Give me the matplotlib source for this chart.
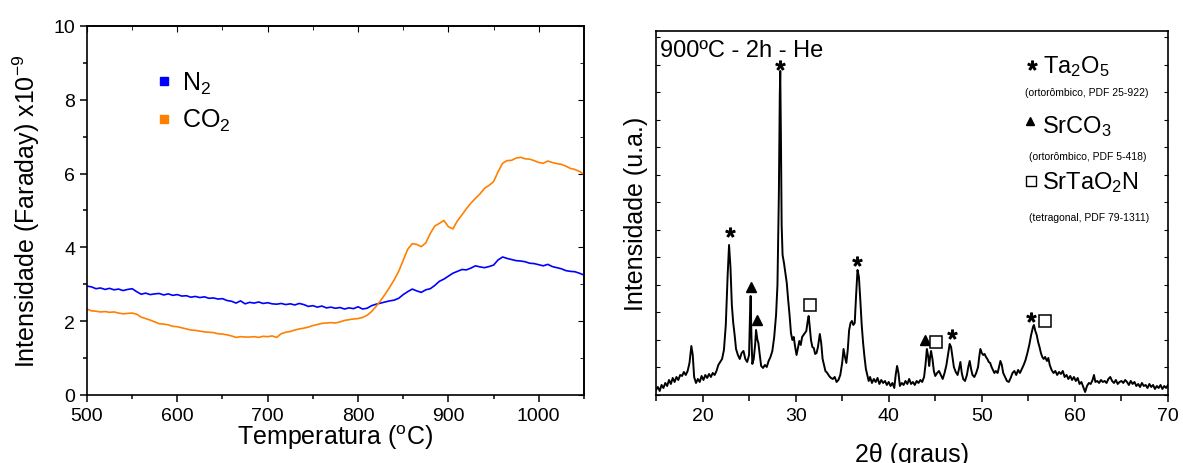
import numpy as np
import matplotlib
matplotlib.use("Agg")
import matplotlib.pyplot as plt
from matplotlib.lines import Line2D
from matplotlib.ticker import MultipleLocator

plt.rcParams['font.family'] = ['Liberation Sans', 'DejaVu Sans']
plt.rcParams['mathtext.fontset'] = 'custom'
plt.rcParams['mathtext.rm'] = 'Liberation Sans'
plt.rcParams['mathtext.it'] = 'Liberation Sans:italic'
plt.rcParams['axes.linewidth'] = 1.2

# --- dados: espectrometria de massa (N2 e CO2) ---
temperatura = np.arange(500, 1051, 5)
n2 = [2.95, 2.93, 2.88, 2.90, 2.86, 2.89, 2.85, 2.87, 2.83, 2.86,
      2.88, 2.80, 2.73, 2.76, 2.72, 2.74, 2.75, 2.71, 2.74, 2.70,
      2.72, 2.68, 2.69, 2.65, 2.67, 2.64, 2.66, 2.62, 2.63, 2.60,
      2.61, 2.56, 2.54, 2.49, 2.55, 2.47, 2.51, 2.49, 2.52, 2.48,
      2.50, 2.47, 2.46, 2.48, 2.45, 2.47, 2.44, 2.48, 2.45, 2.40,
      2.42, 2.38, 2.41, 2.36, 2.38, 2.35, 2.37, 2.33, 2.36, 2.34,
      2.39, 2.33, 2.35, 2.42, 2.46, 2.49, 2.52, 2.55, 2.57, 2.62,
      2.72, 2.80, 2.87, 2.82, 2.78, 2.85, 2.88, 2.97, 3.08, 3.14,
      3.22, 3.30, 3.35, 3.40, 3.39, 3.44, 3.50, 3.47, 3.45, 3.48,
      3.52, 3.66, 3.74, 3.70, 3.67, 3.64, 3.63, 3.61, 3.57, 3.56,
      3.53, 3.50, 3.54, 3.48, 3.45, 3.42, 3.37, 3.35, 3.34, 3.30,
      3.25]
co2 = [2.33, 2.28, 2.27, 2.25, 2.26, 2.24, 2.25, 2.22, 2.20, 2.21,
       2.22, 2.19, 2.11, 2.07, 2.03, 1.98, 1.93, 1.92, 1.90, 1.86,
       1.85, 1.82, 1.79, 1.76, 1.75, 1.73, 1.71, 1.70, 1.69, 1.66,
       1.65, 1.63, 1.60, 1.56, 1.58, 1.57, 1.57, 1.58, 1.56, 1.59,
       1.58, 1.60, 1.56, 1.66, 1.70, 1.72, 1.76, 1.79, 1.81, 1.84,
       1.88, 1.91, 1.94, 1.95, 1.96, 1.95, 1.98, 2.02, 2.04, 2.06,
       2.07, 2.10, 2.16, 2.26, 2.40, 2.56, 2.73, 2.92, 3.12, 3.35,
       3.65, 3.95, 4.10, 4.08, 4.02, 4.12, 4.38, 4.58, 4.65, 4.73,
       4.56, 4.50, 4.72, 4.88, 5.05, 5.20, 5.33, 5.45, 5.60, 5.68,
       5.78, 6.05, 6.28, 6.35, 6.36, 6.42, 6.44, 6.40, 6.39, 6.35,
       6.30, 6.28, 6.34, 6.30, 6.27, 6.25, 6.20, 6.14, 6.11, 6.06,
       5.98]

# --- dados: DRX ---
dois_theta = [
    15.0, 15.2, 15.4, 15.6, 15.8, 16.0, 16.2, 16.4, 16.6, 16.8, 17.0, 17.2, 17.4, 17.6, 17.8,
    18.0, 18.2, 18.4, 18.6, 18.8, 18.95, 19.1, 19.3, 19.5, 19.7, 19.9, 20.1, 20.3, 20.5, 20.7,
    20.9, 21.1, 21.3, 21.5, 21.7, 21.9, 22.1, 22.3, 22.5, 22.7, 22.85, 23.0, 23.15, 23.3, 23.45,
    23.6, 23.8, 24.0, 24.2, 24.4, 24.6, 24.8, 25.0, 25.1, 25.17, 25.25, 25.35, 25.5, 25.65, 25.75,
    25.9, 26.0, 26.15, 26.3, 26.5, 26.7, 26.9, 27.1, 27.3, 27.5, 27.7, 27.9, 28.05, 28.2, 28.3,
    28.35, 28.42, 28.5, 28.6, 28.75, 28.9, 29.05, 29.2, 29.35, 29.5, 29.65, 29.8, 29.95, 30.1, 30.25,
    30.4, 30.55, 30.7, 30.85, 31.0, 31.15, 31.3, 31.4, 31.5, 31.65, 31.8, 31.95, 32.1, 32.25, 32.4,
    32.6, 32.75, 32.9, 33.05, 33.2, 33.4, 33.6, 33.8, 34.0, 34.2, 34.4, 34.6, 34.8, 35.0, 35.15,
    35.3, 35.45, 35.6, 35.75, 35.9, 36.05, 36.2, 36.35, 36.5, 36.65, 36.8, 36.95, 37.1, 37.25, 37.4,
    37.55, 37.7, 37.85, 38.0, 38.2, 38.4, 38.6, 38.8, 39.0, 39.2, 39.4, 39.6, 39.8, 40.0, 40.2,
    40.4, 40.6, 40.75, 40.9, 41.05, 41.2, 41.4, 41.6, 41.8, 42.0, 42.2, 42.4, 42.6, 42.8, 43.0,
    43.2, 43.4, 43.6, 43.8, 43.95, 44.1, 44.25, 44.35, 44.45, 44.55, 44.7, 44.85, 45.0, 45.2, 45.4,
    45.6, 45.8, 46.0, 46.2, 46.4, 46.55, 46.7, 46.85, 47.0, 47.2, 47.4, 47.55, 47.7, 47.85, 48.0,
    48.2, 48.4, 48.55, 48.7, 48.85, 49.0, 49.2, 49.4, 49.6, 49.75, 49.85, 50.0, 50.15, 50.3, 50.45,
    50.6, 50.75, 50.9, 51.05, 51.2, 51.35, 51.5, 51.7, 51.85, 52.0, 52.15, 52.3, 52.5, 52.7, 52.9,
    53.1, 53.3, 53.5, 53.7, 53.9, 54.1, 54.3, 54.5, 54.7, 54.9, 55.1, 55.3, 55.5, 55.6, 55.75,
    55.9, 56.05, 56.2, 56.35, 56.5, 56.65, 56.8, 57.0, 57.15, 57.3, 57.5, 57.7, 57.9, 58.1, 58.3,
    58.5, 58.7, 58.9, 59.1, 59.3, 59.5, 59.7, 59.9, 60.1, 60.3, 60.5, 60.7, 60.9, 61.1, 61.3,
    61.5, 61.7, 61.9, 62.05, 62.2, 62.4, 62.6, 62.8, 63.0, 63.2, 63.4, 63.6, 63.8, 64.0, 64.2,
    64.4, 64.6, 64.8, 65.0, 65.2, 65.4, 65.6, 65.8, 66.0, 66.2, 66.4, 66.6, 66.8, 67.0, 67.2,
    67.4, 67.6, 67.8, 68.0, 68.2, 68.4, 68.6, 68.8, 69.0, 69.2, 69.4, 69.6, 69.8, 70.0]
intensidade = [
    5, 8, 4, 10, 7, 12, 9, 15, 11, 17, 13, 18, 15, 20, 19,
    23, 20, 24, 32, 49, 40, 18, 12, 16, 13, 19, 15, 20, 17, 21,
    18, 22, 20, 24, 30, 33, 36, 45, 70, 120, 150, 128, 90, 72, 60,
    46, 40, 36, 42, 44, 36, 33, 40, 80, 99, 60, 31, 36, 50, 65,
    55, 52, 40, 29, 27, 30, 28, 34, 38, 44, 58, 80, 110, 200, 300,
    324, 260, 170, 140, 132, 122, 112, 95, 80, 62, 55, 58, 48, 40, 47,
    54, 50, 58, 60, 62, 64, 74, 79, 70, 55, 48, 47, 41, 42, 48,
    61, 52, 36, 30, 24, 22, 19, 17, 16, 18, 13, 15, 20, 32, 46,
    38, 32, 45, 65, 72, 74, 70, 72, 100, 125, 118, 95, 70, 52, 38,
    26, 20, 14, 18, 12, 16, 13, 17, 11, 15, 12, 14, 10, 13, 9,
    12, 7, 20, 29, 22, 9, 12, 10, 14, 11, 16, 11, 13, 10, 14,
    12, 15, 13, 18, 30, 46, 38, 29, 38, 44, 36, 24, 19, 22, 24,
    20, 16, 22, 30, 42, 51, 48, 38, 28, 23, 20, 26, 33, 22, 16,
    14, 20, 28, 34, 26, 20, 18, 22, 28, 40, 46, 42, 40, 41, 38,
    36, 33, 32, 28, 25, 22, 24, 22, 28, 34, 30, 22, 18, 14, 13,
    17, 22, 24, 20, 25, 22, 26, 30, 35, 42, 50, 60, 68, 70, 64,
    60, 53, 48, 42, 38, 36, 38, 34, 37, 30, 25, 22, 24, 20, 23,
    21, 24, 18, 20, 16, 19, 15, 18, 14, 17, 11, 13, 8, 3, 9,
    12, 11, 15, 20, 13, 14, 12, 15, 13, 14, 12, 16, 18, 14, 12,
    15, 11, 13, 14, 12, 15, 13, 10, 14, 11, 13, 9, 11, 8, 12,
    9, 10, 7, 11, 8, 10, 6, 9, 7, 10, 6, 9, 7, 10]

# marcadores das fases
ta2o5_x = [22.95, 28.35, 36.6, 46.8, 55.3]
ta2o5_y = [163, 330, 134, 61, 78]
srco3_x = [25.2, 25.9, 43.9]
srco3_y = [108, 75, 55]
srtao2n_x = [31.5, 45.1, 56.8]
srtao2n_y = [90, 53, 74]

fig = plt.figure(figsize=(11.83, 4.64), dpi=100)

# ---------------- grafico da esquerda ----------------
ax1 = fig.add_axes([0.0735, 0.1466, 0.4201, 0.7953])
ax1.plot(temperatura, n2, color='#0000FF', lw=1.2)
ax1.plot(temperatura, co2, color='#FF8000', lw=1.2)
ax1.set_xlim(500, 1050)
ax1.set_ylim(0, 10)
ax1.xaxis.set_major_locator(MultipleLocator(100))
ax1.xaxis.set_minor_locator(MultipleLocator(50))
ax1.yaxis.set_major_locator(MultipleLocator(2))
ax1.yaxis.set_minor_locator(MultipleLocator(1))
ax1.tick_params(which='major', direction='out', length=5, width=1.1, labelsize=14)
ax1.tick_params(which='minor', direction='out', length=3, width=1.1)
top1 = ax1.secondary_xaxis('top')
top1.xaxis.set_major_locator(MultipleLocator(100))
top1.xaxis.set_minor_locator(MultipleLocator(50))
top1.tick_params(which='both', direction='in', labeltop=False, length=4)
top1.tick_params(which='minor', length=3)
right1 = ax1.secondary_yaxis('right')
right1.yaxis.set_major_locator(MultipleLocator(2))
right1.yaxis.set_minor_locator(MultipleLocator(1))
right1.tick_params(which='both', direction='in', labelright=False, length=4)
right1.tick_params(which='minor', length=3)
ax1.set_xlabel('Temperatura ($^{\\rm o}$C)', fontsize=18)
ax1.set_ylabel('Intensidade (Faraday) x10$^{-9}$', fontsize=18)
ax1.xaxis.set_label_coords(0.5, -0.075)
ax1.yaxis.set_label_coords(-0.09, 0.5)

handles = [Line2D([], [], ls='none', marker='s', ms=6, color='#0000FF'),
           Line2D([], [], ls='none', marker='s', ms=6, color='#FF8000')]
ax1.legend(handles, ['N$_2$', 'CO$_2$'], loc='upper left', bbox_to_anchor=(0.11, 0.915),
           frameon=False, fontsize=18, handlelength=0.8, handletextpad=0.3,
           labelspacing=0.45, borderpad=0)

# ---------------- grafico da direita ----------------
ax2 = fig.add_axes([0.5545, 0.1466, 0.4328, 0.7845])
ax2.plot(dois_theta, intensidade, color='black', lw=1.4)
ax2.plot(ta2o5_x, ta2o5_y, ls='none', marker='$*$', ms=6.5, color='black')
ax2.plot(srco3_x, srco3_y, ls='none', marker='^', ms=7, color='black')
ax2.plot(srtao2n_x, srtao2n_y, ls='none', marker='s', ms=8, mfc='white', mec='black', mew=1.1)
ax2.set_xlim(15, 70)
ax2.set_ylim(0, 364)
ax2.xaxis.set_major_locator(MultipleLocator(10))
ax2.xaxis.set_minor_locator(MultipleLocator(5))
ax2.yaxis.set_major_locator(MultipleLocator(27.5))
ax2.tick_params(axis='x', which='major', direction='out', length=5, width=1.1, labelsize=14)
ax2.tick_params(axis='x', which='minor', direction='out', length=4, width=1.1)
ax2.tick_params(axis='y', which='both', direction='in', left=True, right=True,
                labelleft=False, length=3)
ax2.set_xlabel('2θ (graus)', fontsize=18)
ax2.set_ylabel('Intensidade (u.a.)', fontsize=18)
ax2.xaxis.set_label_coords(0.5, -0.13)
ax2.yaxis.set_label_coords(-0.015, 0.5)

ax2.text(0.008, 0.931, '900ºC - 2h - He', transform=ax2.transAxes, fontsize=17, va='baseline')

ax2.plot([0.735], [0.907], transform=ax2.transAxes, ls='none', marker='$*$', ms=6.5, color='black')
ax2.text(0.755, 0.887, 'Ta$_2$O$_5$', transform=ax2.transAxes, fontsize=17, va='baseline')
ax2.text(0.842, 0.832, '(ortorômbico, PDF 25-922)', transform=ax2.transAxes, fontsize=7.5,
         ha='center', va='center')
ax2.plot([0.730], [0.753], transform=ax2.transAxes, ls='none', marker='^', ms=6, color='black')
ax2.text(0.753, 0.7225, 'SrCO$_3$', transform=ax2.transAxes, fontsize=17, va='baseline')
ax2.text(0.844, 0.657, '(ortorômbico, PDF 5-418)', transform=ax2.transAxes, fontsize=7.5,
         ha='center', va='center')
ax2.plot([0.732], [0.588], transform=ax2.transAxes, ls='none', marker='s', ms=7,
         mfc='white', mec='black', mew=1.0)
ax2.text(0.753, 0.569, 'SrTaO$_2$N', transform=ax2.transAxes, fontsize=17, va='baseline')
ax2.text(0.846, 0.489, '(tetragonal, PDF 79-1311)', transform=ax2.transAxes, fontsize=7.5,
         ha='center', va='center')

fig.savefig('out.png', dpi=100)
